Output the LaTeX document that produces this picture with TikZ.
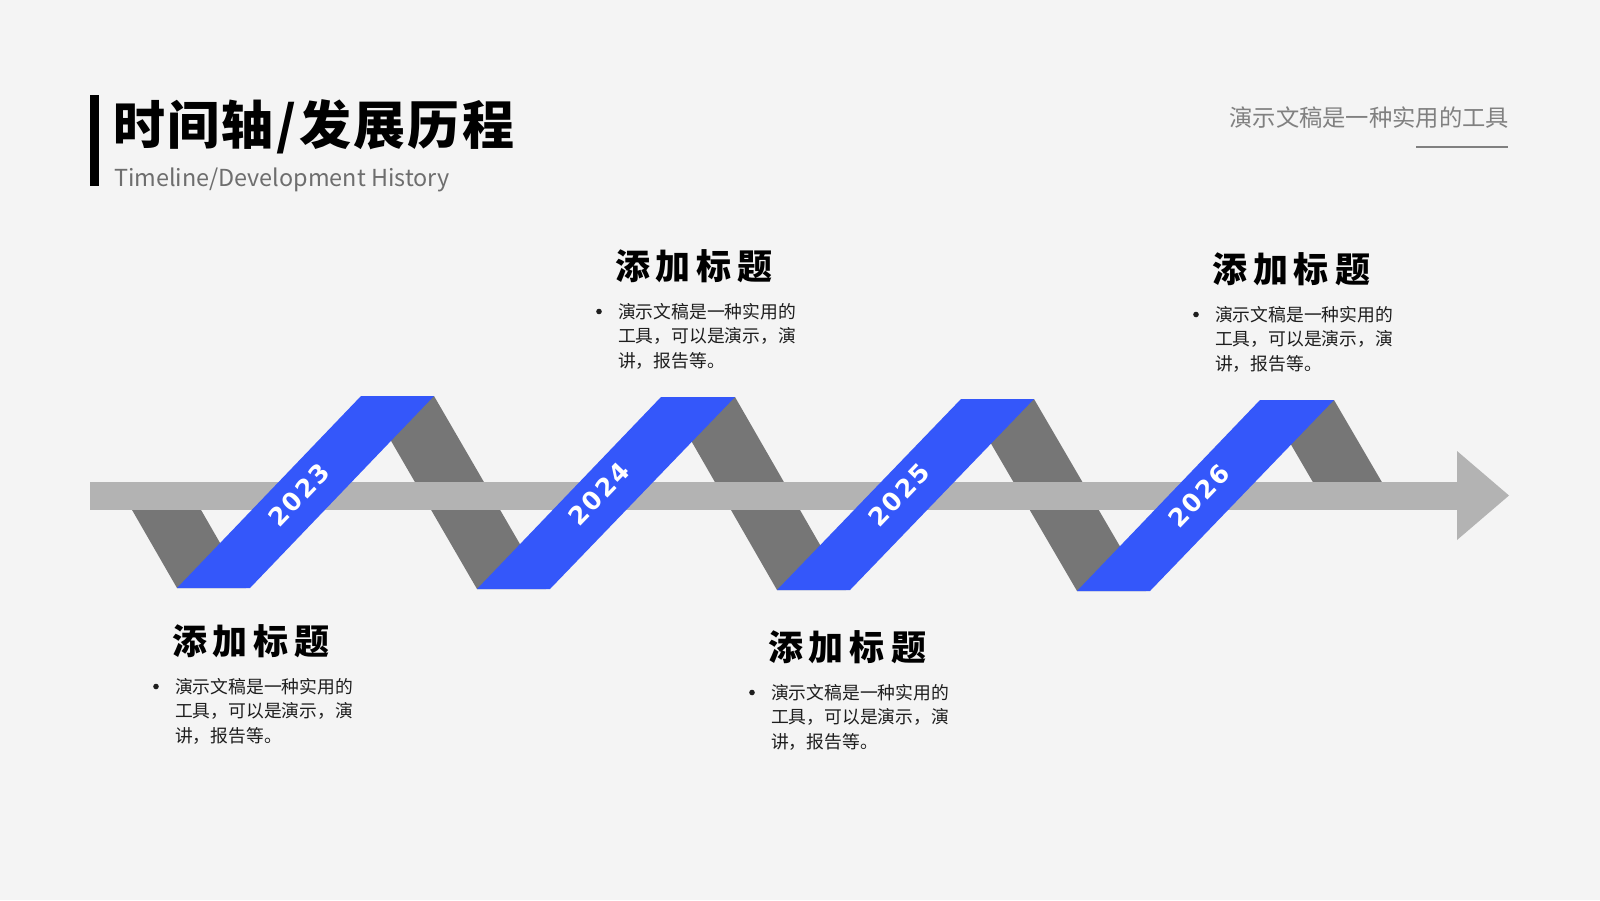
\documentclass[tikz,border=0pt]{standalone}
\usepackage{fontspec}
\setmainfont{Noto Sans CJK SC}
\newfontfamily\yearfont[LetterSpace=8]{DejaVu Sans}
\definecolor{bgc}{HTML}{F4F4F4}
\definecolor{ribblue}{HTML}{3457FA}
\definecolor{ribgray}{HTML}{767676}
\definecolor{barcol}{HTML}{B3B3B3}
\definecolor{subcol}{HTML}{6E6E6E}
\definecolor{topcol}{HTML}{808080}
\definecolor{bodycol}{HTML}{1E1E1E}
\tikzset{
  txt/.style={inner sep=0pt, outer sep=0pt},
  headtext/.style={txt, text=black, font=\fontsize{35}{40}\selectfont\bfseries},
  bodytext/.style={txt, text=bodycol, font=\fontsize{17.8}{24}\selectfont},
  yeartext/.style={txt, text=white, rotate=46, font=\fontsize{25}{28}\selectfont\yearfont\bfseries},
  bluerib/.style={fill=ribblue, draw=none},
  grayrib/.style={fill=ribgray, draw=none},
}
\newcommand\tlcard[3]{%
  \node[headtext, anchor=base west] (#1h) at ({#2-1},{#3-3}) {添\hspace{6pt}加\hspace{6pt}标\hspace{6pt}题};
  \fill[bodycol] ({#2-17},{#3+29.5}) circle (2.8);
  \node[bodytext, anchor=base west] (#1a) at ({#2+2},{#3+36.1}) {演示文稿是一种实用的};
  \node[bodytext, anchor=base west] (#1b) at ({#2+2},{#3+60.6}) {工具，可以是演示，演};
  \node[bodytext, anchor=base west] (#1c) at ({#2+2},{#3+85.1}) {讲，报告等。};
}
\begin{document}
\begin{tikzpicture}[x=1pt,y=-1pt]
\fill[bgc] (0,0) rectangle (1600,900);
\useasboundingbox (0,0) rectangle (1600,900);

% header
\fill[black] (90,95) rectangle (99,186);
\node[txt, anchor=base west, font=\fontsize{52}{60}\selectfont\bfseries] (title) at (113,144.5) {时\hspace{2.5pt}间\hspace{2.5pt}轴\hspace{2.5pt}/\hspace{2.5pt}发\hspace{2.5pt}展\hspace{2.5pt}历\hspace{2.5pt}程};
\node[txt, anchor=base west, text=subcol, font=\fontsize{23.4}{27}\selectfont] (subtitle) at (114,186) {Timeline/Development History};
\node[txt, anchor=base east, text=topcol, font=\fontsize{23.3}{26}\selectfont] (toptext) at (1509,126) {演示文稿是一种实用的工具};
\coordinate (ulA) at (1416,147);
\coordinate (ulB) at (1508,147);
\draw[topcol, line width=2pt] (ulA) -- (ulB);

% gray back strips
\fill[grayrib] (124,496) -- (193,496) -- (246,588) -- (177,588) -- cycle;
\fill[grayrib] (365,396) -- (434,396) -- (546,589) -- (477,589) -- cycle;
\fill[grayrib] (666,397) -- (735,397) -- (846,590) -- (777,590) -- cycle;
\fill[grayrib] (965,399) -- (1034,399) -- (1146,591) -- (1077,591) -- cycle;
\fill[grayrib] (1265,400) -- (1334,400) -- (1390,496) -- (1321,496) -- cycle;

% axis arrow
\fill[barcol] (90,482) rectangle (1458,510);
\fill[barcol] (1457,451) -- (1509,495.5) -- (1457,540) -- cycle;

% blue front strips
\fill[bluerib] (177,588) -- (250,588) -- (434,396) -- (361,396) -- cycle;
\fill[bluerib] (477,589) -- (550,589) -- (735,397) -- (661,397) -- cycle;
\fill[bluerib] (777,590) -- (850,590) -- (1034,399) -- (961,399) -- cycle;
\fill[bluerib] (1077,591) -- (1150,591) -- (1334,400) -- (1260,400) -- cycle;

\node[yeartext] (y1) at (299,495) {2023};
\node[yeartext] (y2) at (599,494) {2024};
\node[yeartext] (y3) at (899,495) {2025};
\node[yeartext] (y4) at (1199,496) {2026};

% cards
\tlcard{cA}{173}{657}
\tlcard{cB}{616}{282}
\tlcard{cC}{769}{663}
\tlcard{cD}{1213}{285}
\end{tikzpicture}
\end{document}
